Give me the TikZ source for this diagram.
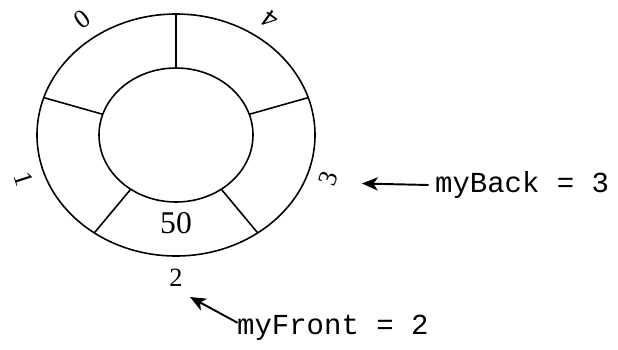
\documentclass[tikz,border=0pt]{standalone}
\usepackage{fontspec}
\setmainfont{Liberation Serif}
\setmonofont{Liberation Mono}
\usepackage{tikz}
\usetikzlibrary{arrows.meta}

\begin{document}
\begin{tikzpicture}[line width=0.9pt]
  % Styles
  \tikzset{
    ring/.style={draw, line width=0.9pt},
    slot/.style={font=\fontsize{15}{17}\selectfont, inner sep=1pt},
    val/.style={font=\fontsize{18}{20}\selectfont},
    ptr/.style={font=\ttfamily\fontsize{16.5}{18}\selectfont, anchor=west},
    arrow/.style={-{Stealth[length=9pt, width=7.5pt, inset=2.5pt]}, line width=1.1pt}
  }
  \useasboundingbox (0,0) rectangle (12.36,-6.98);
  \coordinate (c) at (3.52,-2.70);

  % Ring
  \begin{scope}[shift={(c)}]
    \draw[ring] (0,0) ellipse [x radius=2.78, y radius=2.42];
    \draw[ring] (0,0) ellipse [x radius=1.54, y radius=1.34];
    \foreach \a in {18,90,...,306}
      \draw[ring] (\a:1.54 and 1.34) -- (\a:2.78 and 2.42);

    % Nodes
    \foreach \i [evaluate=\i as \ang using 126+72*\i,
                 evaluate=\i as \rot using 216+72*\i] in {0,...,4}
      \node[slot, rotate=\rot] (s\i) at (\ang:3.2 and 2.85) {\i};
    \node[val] (fifty) at (0,-1.76) {50};
  \end{scope}

  \node[ptr] (back) at (8.57,-3.70) {myBack = 3};
  \node[ptr] (front) at (4.61,-6.56) {myFront = 2};
  \coordinate (backtip) at (7.24,-3.67);
  \coordinate (fronttip) at (3.80,-5.94);

  % Arrows
  \draw[arrow] (back.west) -- (backtip);
  \draw[arrow] ([xshift=4pt, yshift=3pt]front.west) -- (fronttip);
\end{tikzpicture}
\end{document}
